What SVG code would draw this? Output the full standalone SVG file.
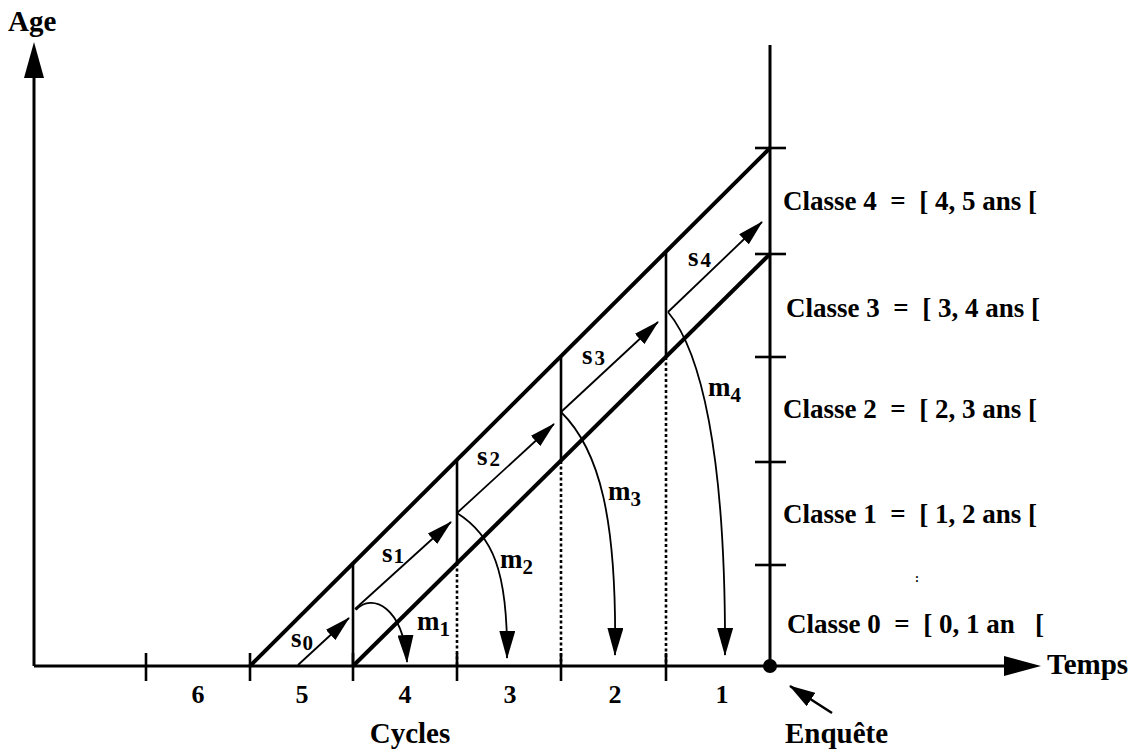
<svg xmlns="http://www.w3.org/2000/svg" width="1140" height="753" viewBox="0 0 1140 753">
<defs>
<style>
text{font-family:"Liberation Serif","Times New Roman",serif;font-weight:bold;fill:#000}
.lbl{font-size:27px;white-space:pre}
.ttl{font-size:29px}
.num{font-size:26px;text-anchor:middle}
.sym{font-size:27px}
.sub{font-size:21px}
.ax{stroke:#000;stroke-width:3;fill:none}
.diag{stroke:#000;stroke-width:4;fill:none}
.vs{stroke:#000;stroke-width:2.6;fill:none}
.vd{stroke:#000;stroke-width:2.6;stroke-dasharray:3 2.5;fill:none}
.tk{stroke:#000;stroke-width:2.6}
.thin{stroke:#000;stroke-width:1.8;fill:none;marker-end:url(#ah)}
.mc{stroke:#000;stroke-width:1.8;fill:none;marker-end:url(#ahm)}
</style>
<marker id="ah" markerUnits="userSpaceOnUse" markerWidth="26" markerHeight="14" refX="25" refY="7" orient="auto">
<path d="M0,0 L26,7 L0,14 z" fill="#000"/>
</marker>
<marker id="ahm" markerUnits="userSpaceOnUse" markerWidth="28" markerHeight="16" refX="27" refY="8" orient="auto">
<path d="M0,0 L28,8 L0,16 z" fill="#000"/>
</marker>
<marker id="ahb" markerUnits="userSpaceOnUse" markerWidth="26" markerHeight="16" refX="25" refY="8" orient="auto">
<path d="M0,0 L26,8 L0,16 z" fill="#000"/>
</marker>
</defs>
<rect width="1140" height="753" fill="#fff"/>

<g id="axes">
<line class="ax" x1="34" y1="666" x2="34" y2="70"/>
<polygon points="34,42 24,78 44,78" fill="#000"/>
<line class="ax" x1="34" y1="666" x2="1010" y2="666"/>
<polygon points="1041,666 1004,656 1004,676" fill="#000"/>
<line class="ax" x1="770" y1="45" x2="770" y2="666"/>
<circle cx="770" cy="666" r="7" fill="#000"/>
</g>

<g id="ticks">
<line class="tk" x1="755" y1="148" x2="786" y2="148"/>
<line class="tk" x1="755" y1="254" x2="786" y2="254"/>
<line class="tk" x1="755" y1="357" x2="786" y2="357"/>
<line class="tk" x1="755" y1="462" x2="786" y2="462"/>
<line class="tk" x1="755" y1="565" x2="786" y2="565"/>
<line class="tk" x1="146" y1="653" x2="146" y2="681"/>
<line class="tk" x1="250" y1="653" x2="250" y2="681"/>
<line class="tk" x1="353" y1="653" x2="353" y2="681"/>
<line class="tk" x1="457" y1="653" x2="457" y2="681"/>
<line class="tk" x1="561" y1="653" x2="561" y2="681"/>
<line class="tk" x1="666" y1="653" x2="666" y2="681"/>
</g>

<g id="lexis">
<line class="diag" x1="250" y1="666" x2="770" y2="148"/>
<line class="diag" x1="353" y1="666" x2="770" y2="254"/>
<line class="vs" x1="353" y1="562" x2="353" y2="666"/>
<line class="vs" x1="457" y1="459" x2="457" y2="563"/>
<line class="vd" x1="457" y1="563" x2="457" y2="666"/>
<line class="vs" x1="561" y1="356" x2="561" y2="461"/>
<line class="vd" x1="561" y1="461" x2="561" y2="666"/>
<line class="vs" x1="666" y1="251" x2="666" y2="357"/>
<line class="vd" x1="666" y1="357" x2="666" y2="666"/>
</g>

<g id="connectors">
<line class="thin" x1="298" y1="665" x2="349" y2="618"/>
<line class="thin" x1="355" y1="609" x2="451" y2="522"/>
<line class="thin" x1="457" y1="513" x2="554" y2="424"/>
<line class="thin" x1="561" y1="412" x2="658" y2="322"/>
<line class="thin" x1="668" y1="312" x2="762" y2="222"/>
<path class="mc" d="M356,610 C372,592 404,608 407,662"/>
<path class="mc" d="M457,513 C492,535 508,570 507,658"/>
<path class="mc" d="M561,412 C600,450 617,520 615,655"/>
<path class="mc" d="M668,312 C700,350 726,450 725,655"/>
<line x1="832" y1="713" x2="790" y2="686" stroke="#000" stroke-width="2.6" marker-end="url(#ahb)"/>
</g>

<g id="labels-s">
<text class="sym" x="291" y="647">s<tspan class="sub" dx="1" dy="3">0</tspan></text>
<text class="sym" x="382" y="562">s<tspan class="sub" dx="1" dy="1">1</tspan></text>
<text class="sym" x="477" y="465">s<tspan class="sub" dx="2" dy="1">2</tspan></text>
<text class="sym" x="582" y="364">s<tspan class="sub" dx="2" dy="1">3</tspan></text>
<text class="sym" x="688" y="266">s<tspan class="sub" dx="2" dy="1">4</tspan></text>
</g>

<g id="labels-m">
<text class="sym" x="417" y="630">m<tspan class="sub" dy="6">1</tspan></text>
<text class="sym" x="500" y="568">m<tspan class="sub" dy="6">2</tspan></text>
<text class="sym" x="608" y="500">m<tspan class="sub" dy="6">3</tspan></text>
<text class="sym" x="708" y="396">m<tspan class="sub" dy="6">4</tspan></text>
</g>

<g id="classes">
<text class="lbl" x="783" y="210">Classe 4  =  [ 4, 5 ans [</text>
<text class="lbl" x="786" y="317">Classe 3  =  [ 3, 4 ans [</text>
<text class="lbl" x="783" y="418">Classe 2  =  [ 2, 3 ans [</text>
<text class="lbl" x="783" y="523">Classe 1  =  [ 1, 2 ans [</text>
<text class="lbl" x="787" y="633">Classe 0  =  [ 0, 1 an   [</text>
<text x="915" y="582" style="font-size:12px">:</text>
</g>

<g id="cycles">
<text class="num" x="198" y="703">6</text>
<text class="num" x="302" y="703">5</text>
<text class="num" x="405" y="703">4</text>
<text class="num" x="510" y="703">3</text>
<text class="num" x="615" y="703">2</text>
<text class="num" x="722" y="703">1</text>
</g>

<g id="titles">
<text class="ttl" x="8" y="31">Age</text>
<text class="ttl" x="1047" y="674">Temps</text>
<text class="ttl" x="410" y="743" text-anchor="middle">Cycles</text>
<text class="ttl" x="785" y="743">Enquête</text>
</g>
</svg>
